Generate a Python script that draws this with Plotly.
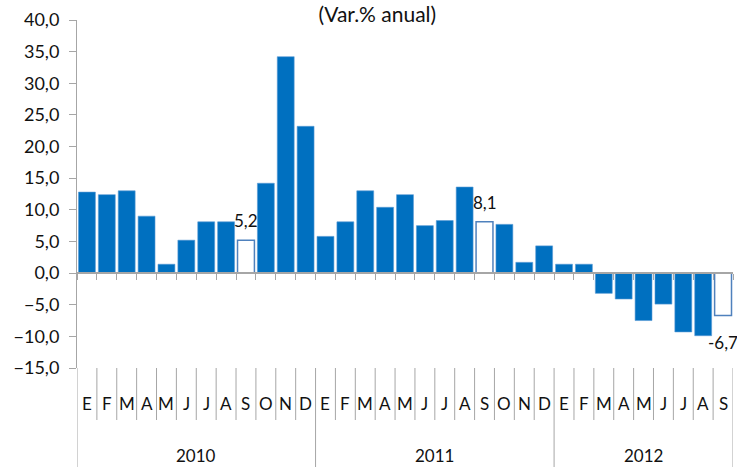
import plotly.graph_objects as go

years = [2010, 2011, 2012]
months = ["E", "F", "M", "A", "M", "J", "J", "A", "S", "O", "N", "D"]
months_per_year = [12, 12, 9]

values = [
    12.8, 12.4, 13.0, 9.0, 1.4, 5.2, 8.1, 8.1, 5.2, 14.2, 34.2, 23.2,   # 2010
    5.8, 8.1, 13.0, 10.4, 12.4, 7.5, 8.3, 13.6, 8.1, 7.7, 1.7, 4.3,     # 2011
    1.4, 1.4, -3.2, -4.1, -7.5, -4.9, -9.3, -9.9, -6.7,                 # 2012
]
# hollow (highlighted) bars: each September
highlight = [False] * 8 + [True] + [False] * 11 + [True] + [False] * 11 + [True]

title_text = "(Var.% anual)"
y_ticks = [-15, -10, -5, 0, 5, 10, 15, 20, 25, 30, 35, 40]

# category ids and month letters
cats, cat_months, cat_years = [], [], []
for y, n in zip(years, months_per_year):
    for k in range(n):
        cats.append(f"{y}-{k+1:02d}")
        cat_months.append(months[k])
        cat_years.append(y)

BLUE = "#0070C0"
GRAY = "#A6A6A6"
FONT = "Lato"
TXT = "#111111"

fill_colors = ["white" if h else BLUE for h in highlight]
line_colors = ["#4F81BD" if h else "#5B9BD5" for h in highlight]
line_widths = [1.5 if h else 0.6 for h in highlight]

fig = go.Figure()
fig.add_trace(go.Bar(
    x=cats, y=values,
    marker=dict(color=fill_colors, line=dict(color=line_colors, width=line_widths)),
    hoverinfo="x+y",
))

ymin, ymax = y_ticks[0], y_ticks[-1]
zero_pos = (0 - ymin) / (ymax - ymin)

# plot-area geometry in pixels for below-axis decorations
plot_h = 348.0
month_sep_bottom = -52 / plot_h
year_sep_bottom = -99 / plot_h
month_label_y = -35 / plot_h
year_label_y = -88 / plot_h

shapes = []
annotations = []
n = len(cats)
year_bounds = [0]
for c in months_per_year:
    year_bounds.append(year_bounds[-1] + c)
for i in range(n + 1):
    is_year = i in year_bounds
    shapes.append(dict(
        type="line", xref="x", yref="paper",
        x0=i - 0.5, x1=i - 0.5, y0=0, y1=year_sep_bottom if is_year else month_sep_bottom,
        line=dict(color=GRAY, width=1),
    ))
for c, m in zip(cats, cat_months):
    annotations.append(dict(
        x=c, y=month_label_y, xref="x", yref="paper", text=m, showarrow=False,
        font=dict(family=FONT, size=17, color=TXT), yanchor="middle",
    ))
for j, y in enumerate(years):
    center = (year_bounds[j] + year_bounds[j + 1] - 1) / 2
    annotations.append(dict(
        x=center, y=year_label_y, xref="x", yref="paper", text=str(y), showarrow=False,
        font=dict(family=FONT, size=17, color=TXT), yanchor="middle",
    ))
# value labels for highlighted bars
for c, v, h in zip(cats, values, highlight):
    if not h:
        continue
    txt = f"{v:.1f}".replace(".", ",")
    annotations.append(dict(
        x=c, y=v, xref="x", yref="y", text=txt, showarrow=False,
        font=dict(family=FONT, size=17, color=TXT),
        yanchor="bottom" if v >= 0 else "top",
        yshift=7 if v >= 0 else -15,
    ))

fig.update_layout(
    width=737, height=467,
    margin=dict(l=77, r=4, t=20, b=99),
    paper_bgcolor="white", plot_bgcolor="white",
    separators=",.",
    bargap=0.15,
    showlegend=False,
    title=dict(text=title_text, x=0.512, xanchor="center", y=1 - 15 / 467, yanchor="middle",
               font=dict(family=FONT, size=21, color=TXT)),
    font=dict(family=FONT, size=17, color=TXT),
    xaxis=dict(
        type="category", range=[-0.5, n - 0.5],
        anchor="free", position=zero_pos,
        showline=True, linecolor=GRAY, linewidth=1.5,
        ticks="outside", tickson="boundaries", ticklen=6, tickcolor=GRAY, tickwidth=1,
        showticklabels=False, showgrid=False, zeroline=False, fixedrange=True,
    ),
    yaxis=dict(
        range=[ymin, ymax], tickvals=y_ticks, tickformat=".1f",
        showline=True, linecolor=GRAY, linewidth=1,
        ticks="outside", ticklen=7, tickcolor=GRAY, ticklabelstandoff=6,
        showgrid=False, zeroline=False,
        tickfont=dict(family=FONT, size=18, color=TXT),
    ),
    shapes=shapes,
    annotations=annotations,
)

fig.write_html("out.html", config={"displayModeBar": False},
               post_script="document.body.style.margin='0';document.body.style.padding='0';")
